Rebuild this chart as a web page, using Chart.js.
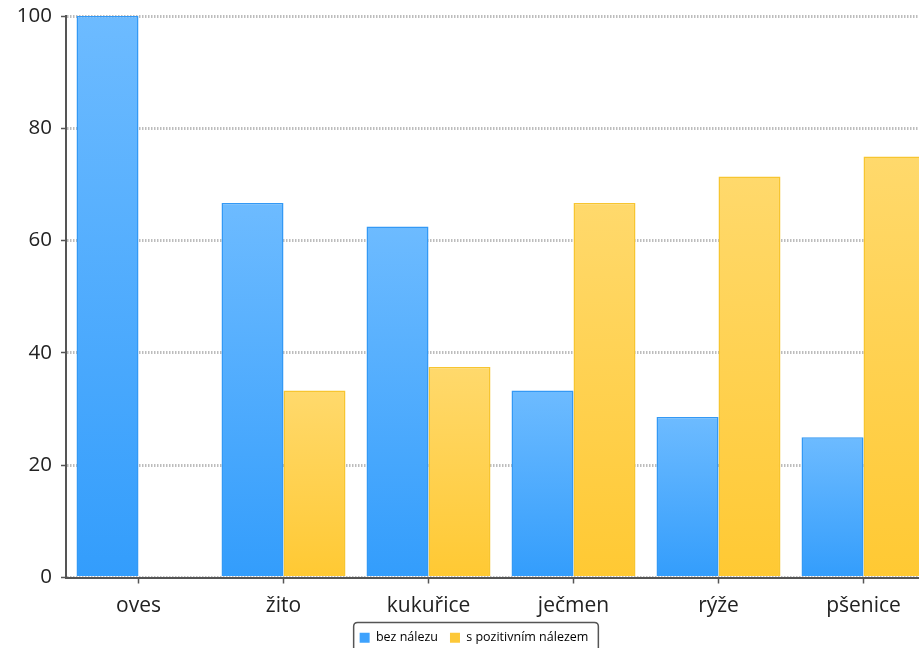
<!DOCTYPE html>
<html>
<head>
<meta charset="utf-8">
<script src="https://cdn.jsdelivr.net/npm/chart.js@4/dist/chart.umd.min.js"></script>
<style>
  html, body { margin: 0; padding: 0; background: #fff; overflow: hidden; }
  #wrap { position: absolute; left: 0; top: 0; width: 937px; height: 654px; }
</style>
</head>
<body>
<div id="wrap"><canvas id="c" width="937" height="654"></canvas></div>
<script>
// Crops and share of samples (%) without / with a positive finding
const categories = ['oves', 'žito', 'kukuřice', 'ječmen', 'rýže', 'pšenice'];
const bezNalezu = [100, 66.7, 62.5, 33.3, 28.6, 25];
const sNalezem = [0, 33.3, 37.5, 66.7, 71.4, 75];
const seriesNames = ['bez nálezu', 's pozitivním nálezem'];
const yTicks = [0, 20, 40, 60, 80, 100];

const FONT = '"Open Sans", "DejaVu Sans", sans-serif';

// Vertical gradient per bar: light at the top, saturated at the base
function barGradient(top, bottom) {
  return (ctx) => {
    const chart = ctx.chart;
    if (!chart.chartArea || ctx.parsed === undefined) return bottom;
    const y = chart.scales.y;
    const y0 = y.getPixelForValue(ctx.parsed.y);
    const y1 = y.getPixelForValue(0);
    if (!isFinite(y0) || !isFinite(y1) || y1 - y0 < 1) return bottom;
    const g = chart.ctx.createLinearGradient(0, y0, 0, y1);
    g.addColorStop(0, top);
    g.addColorStop(1, bottom);
    return g;
  };
}

// Rounded frame around the legend
const legendFrame = {
  id: 'legendFrame',
  afterDraw(chart) {
    const lg = chart.legend;
    if (!lg || !lg.legendHitBoxes || !lg.legendHitBoxes.length) return;
    const boxes = lg.legendHitBoxes;
    let x0 = Infinity, x1 = -Infinity, y0 = Infinity, y1 = -Infinity;
    boxes.forEach(b => {
      x0 = Math.min(x0, b.left); x1 = Math.max(x1, b.left + b.width);
      y0 = Math.min(y0, b.top); y1 = Math.max(y1, b.top + b.height);
    });
    const c = chart.ctx;
    const l = x0 - 6, t = y0 - 9, w = (x1 - x0) + 16, h = (y1 - y0) + 30, r = 4;
    c.save();
    c.strokeStyle = '#555';
    c.lineWidth = 1.5;
    c.beginPath();
    c.moveTo(l + r, t);
    c.lineTo(l + w - r, t);
    c.quadraticCurveTo(l + w, t, l + w, t + r);
    c.lineTo(l + w, t + h);
    c.moveTo(l, t + h);
    c.lineTo(l, t + r);
    c.quadraticCurveTo(l, t, l + r, t);
    c.stroke();
    c.restore();
  }
};

new Chart(document.getElementById('c'), {
  type: 'bar',
  data: {
    labels: categories,
    datasets: [
      {
        label: seriesNames[0],
        data: bezNalezu,
        backgroundColor: barGradient('#6dbbff', '#339dfc'),
        borderColor: '#3399f5',
        borderWidth: 1.5,
        categoryPercentage: 0.855,
        barPercentage: 1.0
      },
      {
        label: seriesNames[1],
        data: sNalezem,
        backgroundColor: barGradient('#ffd96c', '#ffc933'),
        borderColor: '#f7c530',
        borderWidth: 1.5,
        categoryPercentage: 0.855,
        barPercentage: 1.0
      }
    ]
  },
  options: {
    responsive: false,
    animation: false,
    layout: { padding: { top: 16, right: 1, left: 12, bottom: 0 } },
    plugins: {
      tooltip: { enabled: false },
      legend: {
        position: 'bottom',
        labels: {
          boxWidth: 10,
          boxHeight: 10,
          padding: 12,
          color: '#444',
          font: { family: FONT, size: 12.5 },
          generateLabels(chart) {
            const fills = ['#3ea2fd', '#fdc838'];
            return chart.data.datasets.map((ds, i) => ({
              text: ds.label,
              fillStyle: fills[i],
              strokeStyle: fills[i],
              lineWidth: 0,
              datasetIndex: i,
              hidden: false
            }));
          }
        }
      }
    },
    scales: {
      x: {
        offset: true,
        grid: {
          display: true,
          offset: false,
          drawOnChartArea: false,
          drawTicks: true,
          tickLength: 6,
          tickColor: '#555',
          tickWidth: 1.5
        },
        border: { display: true, color: '#555', width: 2 },
        ticks: {
          color: '#222',
          padding: 10,
          font: { family: FONT, size: 21 }
        },
        afterFit(s) { s.height = 42; }
      },
      y: {
        min: 0,
        max: 100,
        afterBuildTicks(s) { s.ticks = yTicks.map(v => ({ value: v })); },
        grid: {
          color: '#bdbdbd',
          lineWidth: 3,
          drawTicks: true,
          tickLength: 5,
          tickColor: '#555',
          tickWidth: 1.5,
          tickBorderDash: []
        },
        border: { display: true, color: '#555', width: 2, dash: [1.5, 1.5] },
        ticks: {
          color: '#222',
          padding: 9,
          font: { family: FONT, size: 20.5 }
        },
        afterFit(s) {
          s.width = 54;
          s.paddingTop = 0;
          s.paddingBottom = 0;
        }
      }
    }
  },
  plugins: [legendFrame]
});
</script>
</body>
</html>
